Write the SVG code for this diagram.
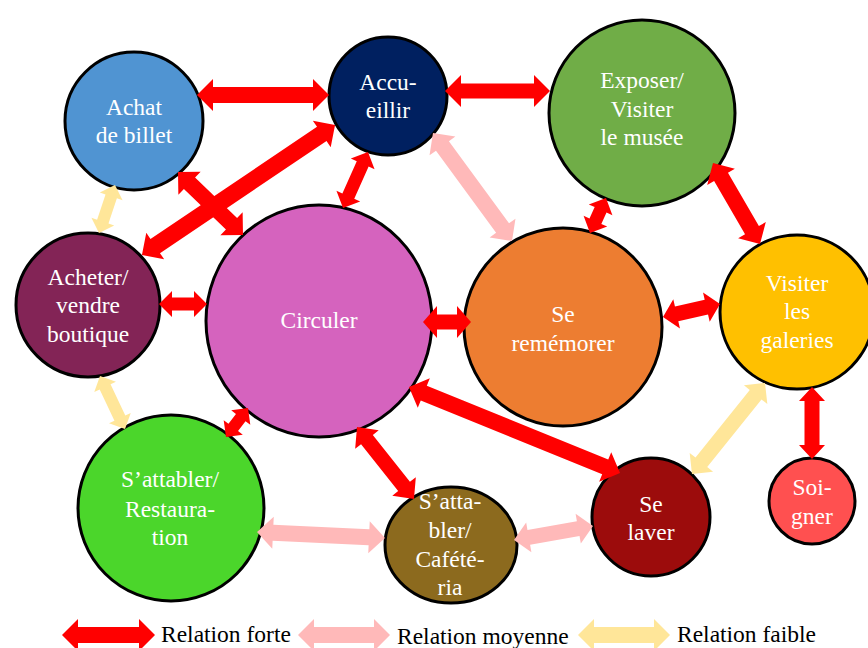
<svg xmlns="http://www.w3.org/2000/svg" width="868" height="648" viewBox="0 0 868 648">
<style>
.n{stroke:#000;stroke-width:3}
.t{font-family:"Liberation Serif","Times New Roman",serif;font-size:23.5px;fill:#fff;text-anchor:middle}
.lg{font-family:"Liberation Serif","Times New Roman",serif;font-size:23.5px;fill:#000}
.r{fill:#FF0000}
.p{fill:#FFB9B9}
.y{fill:#FFE699}
</style>
<rect width="868" height="648" fill="#fff"/>
<g id="achat"><circle class="n" cx="134" cy="121" r="69" fill="#5094D2"/><text class="t" x="134" y="115">Achat</text><text class="t" x="134" y="143">de billet</text></g>
<g id="accueillir"><circle class="n" cx="388" cy="96" r="59" fill="#002060"/><text class="t" x="388" y="90">Accu-</text><text class="t" x="388" y="118">eillir</text></g>
<g id="exposer"><circle class="n" cx="642" cy="113" r="93" fill="#70AD47"/><text class="t" x="642" y="88">Exposer/</text><text class="t" x="642" y="117">Visiter</text><text class="t" x="642" y="145">le musée</text></g>
<g id="acheter"><circle class="n" cx="88" cy="305" r="72" fill="#832456"/><text class="t" x="88" y="285">Acheter/</text><text class="t" x="88" y="313">vendre</text><text class="t" x="88" y="342">boutique</text></g>
<g id="circuler"><ellipse class="n" cx="319" cy="321" rx="113" ry="116" fill="#D563BE"/><text class="t" x="319" y="328">Circuler</text></g>
<g id="rememorer"><circle class="n" cx="563" cy="327" r="99" fill="#ED7D31"/><text class="t" x="563" y="322">Se</text><text class="t" x="563" y="351">remémorer</text></g>
<g id="galeries"><circle class="n" cx="797" cy="312" r="77" fill="#FFC000"/><text class="t" x="797" y="291">Visiter</text><text class="t" x="797" y="319">les</text><text class="t" x="797" y="348">galeries</text></g>
<g id="restauration"><circle class="n" cx="171" cy="508" r="93" fill="#4BD62B"/><text class="t" x="170" y="487">S’attabler/</text><text class="t" x="170" y="517">Restaura-</text><text class="t" x="170" y="545">tion</text></g>
<g id="cafeteria"><ellipse class="n" cx="451" cy="545" rx="66" ry="58" fill="#8C6A1E"/><text class="t" x="450" y="509">S’atta-</text><text class="t" x="450" y="538">bler/</text><text class="t" x="450" y="567">Cafété-</text><text class="t" x="450" y="595">ria</text></g>
<g id="laver"><circle class="n" cx="651" cy="517" r="59" fill="#9C0C0C"/><text class="t" x="651" y="512">Se</text><text class="t" x="651" y="540">laver</text></g>
<g id="soigner"><circle class="n" cx="812" cy="501" r="43" fill="#FF5050"/><text class="t" x="812" y="495">Soi-</text><text class="t" x="812" y="524">gner</text></g>
<g id="connectors">
<path class="r" transform="translate(263,95)" d="M-66 0L-50-16L-50-8L50-8L50-16L66 0L50 16L50 8L-50 8L-50 16Z"/>
<path class="r" transform="translate(497.5,91)" d="M-52.5 0L-36.5-16L-36.5-7.5L36.5-7.5L36.5-16L52.5 0L36.5 16L36.5 7.5L-36.5 7.5L-36.5 16Z"/>
<path class="r" transform="translate(238.5,190) rotate(146.04)" d="M-116.4 0L-100.4-16L-100.4-8.5L100.4-8.5L100.4-16L116.4 0L100.4 16L100.4 8.5L-100.4 8.5L-100.4 16Z"/>
<path class="r" transform="translate(210.5,203.5) rotate(44.1)" d="M-45.25 0L-29.25-16L-29.25-8L29.25-8L29.25-16L45.25 0L29.25 16L29.25 8L-29.25 8L-29.25 16Z"/>
<path class="r" transform="translate(355.5,180) rotate(114.06)" d="M-30.65 0L-17.65-13L-17.65-6.5L17.65-6.5L17.65-13L30.65 0L17.65 13L17.65 6.5L-17.65 6.5L-17.65 13Z"/>
<path class="r" transform="translate(183,304)" d="M-24 0L-11-13L-11-6.5L11-6.5L11-13L24 0L11 13L11 6.5L-11 6.5L-11 13Z"/>
<path class="r" transform="translate(447,322)" d="M-24 0L-10-16L-10-7.5L10-7.5L10-16L24 0L10 16L10 7.5L-10 7.5L-10 16Z"/>
<path class="r" transform="translate(598,215.5) rotate(114.57)" d="M-19.25 0L-6.25-13L-6.25-6.5L6.25-6.5L6.25-13L19.25 0L6.25 13L6.25 6.5L-6.25 6.5L-6.25 13Z"/>
<path class="r" transform="translate(736.5,203.5) rotate(59.87)" d="M-46.8 0L-30.8-16L-30.8-8L30.8-8L30.8-16L46.8 0L30.8 16L30.8 8L-30.8 8L-30.8 16Z"/>
<path class="r" transform="translate(691.5,310.5) rotate(-12.85)" d="M-29.25 0L-15.25-15L-15.25-7.5L15.25-7.5L15.25-15L29.25 0L15.25 15L15.25 7.5L-15.25 7.5L-15.25 15Z"/>
<path class="r" transform="translate(812,423) rotate(90)" d="M-36 0L-22-13L-22-7.5L22-7.5L22-13L36 0L22 13L22 7.5L-22 7.5L-22 13Z"/>
<path class="r" transform="translate(514.5,430) rotate(22.17)" d="M-113.95 0L-97.95-16L-97.95-8L97.95-8L97.95-16L113.95 0L97.95 16L97.95 8L-97.95 8L-97.95 16Z"/>
<path class="r" transform="translate(237,422.5) rotate(127.19)" d="M-18.2 0L-6.2-12L-6.2-6L6.2-6L6.2-12L18.2 0L6.2 12L6.2 6L-6.2 6L-6.2 12Z"/>
<path class="r" transform="translate(385.5,463) rotate(51.63)" d="M-45.9 0L-29.9-15L-29.9-7.5L29.9-7.5L29.9-15L45.9 0L29.9 15L29.9 7.5L-29.9 7.5L-29.9 15Z"/>
<path class="p" transform="translate(472.5,187) rotate(53.81)" d="M-66.9 0L-50.9-16L-50.9-8L50.9-8L50.9-16L66.9 0L50.9 16L50.9 8L-50.9 8L-50.9 16Z"/>
<path class="p" transform="translate(321,535) rotate(2.68)" d="M-64.05 0L-48.05-16L-48.05-8L48.05-8L48.05-16L64.05 0L48.05 16L48.05 8L-48.05 8L-48.05 16Z"/>
<path class="p" transform="translate(553.5,533) rotate(-10.05)" d="M-40.1 0L-25.1-15L-25.1-7.5L25.1-7.5L25.1-15L40.1 0L25.1 15L25.1 7.5L-25.1 7.5L-25.1 15Z"/>
<path class="y" transform="translate(107,209) rotate(108.43)" d="M-25.3 0L-13.3-12L-13.3-6L13.3-6L13.3-12L25.3 0L13.3 12L13.3 6L-13.3 6L-13.3 12Z"/>
<path class="y" transform="translate(112.5,402.5) rotate(64.75)" d="M-29.3 0L-17.3-12L-17.3-6L17.3-6L17.3-12L29.3 0L17.3 12L17.3 6L-17.3 6L-17.3 12Z"/>
<path class="y" transform="translate(728.5,428.5) rotate(128.74)" d="M-58.35 0L-43.35-15L-43.35-7.5L43.35-7.5L43.35-15L58.35 0L43.35 15L43.35 7.5L-43.35 7.5L-43.35 15Z"/>
</g>
<g id="legend">
<path class="r" transform="translate(108.5,635)" d="M-46.5 0L-30.5-16L-30.5-8L30.5-8L30.5-16L46.5 0L30.5 16L30.5 8L-30.5 8L-30.5 16Z"/>
<text class="lg" x="161" y="642">Relation forte</text>
<path class="p" transform="translate(344,635)" d="M-46 0L-30-16L-30-8L30-8L30-16L46 0L30 16L30 8L-30 8L-30 16Z"/>
<text class="lg" x="397" y="644">Relation moyenne</text>
<path class="y" transform="translate(624,635)" d="M-46 0L-30-16L-30-8L30-8L30-16L46 0L30 16L30 8L-30 8L-30 16Z"/>
<text class="lg" x="677" y="642">Relation faible</text>
</g>
</svg>
